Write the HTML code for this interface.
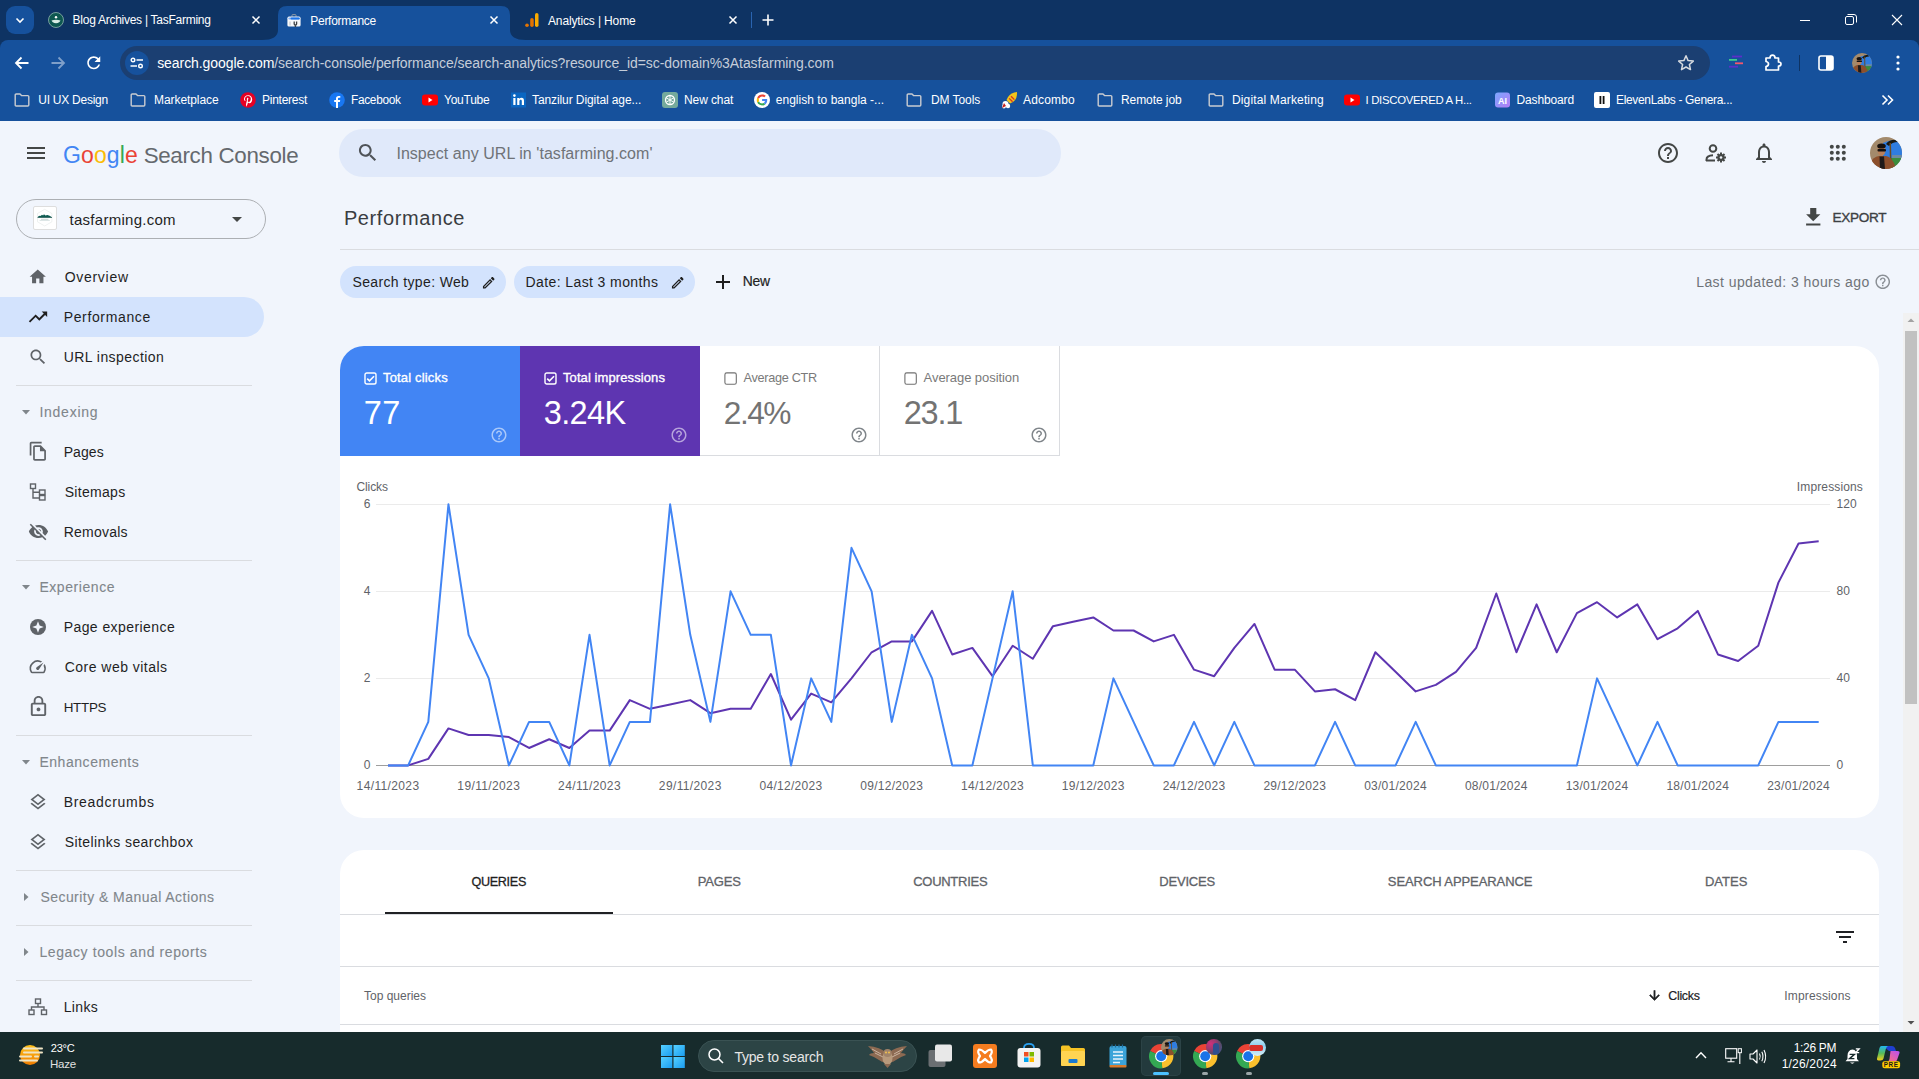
<!DOCTYPE html>
<html><head><meta charset="utf-8"><title>Performance</title><style>*{margin:0;padding:0;box-sizing:content-box}
html,body{width:1919px;height:1079px;overflow:hidden;background:#f1f5fc}
body{position:relative;font-family:"Liberation Sans",Arial,sans-serif}
.t{position:absolute;white-space:nowrap}
svg{overflow:visible}
</style></head>
<body>
<div style="position:absolute;left:0px;top:121px;width:1919px;height:911px;background:#f1f5fc;"></div>
<div style="position:absolute;left:27px;top:147px;width:18px;height:2px;background:#444746;"></div>
<div style="position:absolute;left:27px;top:152px;width:18px;height:2px;background:#444746;"></div>
<div style="position:absolute;left:27px;top:157px;width:18px;height:2px;background:#444746;"></div>
<div class="t" style="left:63.10px;top:144.00px;font-size:23px;line-height:23px;color:#4285f4;letter-spacing:0.085px;"><span style="color:#4285f4">G</span><span style="color:#ea4335">o</span><span style="color:#fbbc05">o</span><span style="color:#4285f4">g</span><span style="color:#34a853">l</span><span style="color:#ea4335">e</span></div>
<div class="t" style="left:143.63px;top:145.00px;font-size:22.35px;line-height:22.35px;color:#65696e;letter-spacing:-0.3px;">Search Console</div>
<div style="position:absolute;left:339px;top:129px;width:722px;height:48px;background:#e0e9fa;border-radius:24px;"></div>
<svg style="position:absolute;left:355.6px;top:141.2px;" width="23.5" height="23.5" viewBox="0 0 24 24"><path fill="#4f5358" d="M15.5 14h-.79l-.28-.27C15.41 12.59 16 11.11 16 9.5 16 5.91 13.09 3 9.5 3S3 5.91 3 9.5 5.91 16 9.5 16c1.61 0 3.09-.59 4.23-1.57l.27.28v.79l5 4.99L20.49 19l-4.99-5zm-6 0C7.01 14 5 11.99 5 9.5S7.01 5 9.5 5 14 7.01 14 9.5 11.99 14 9.5 14z"/></svg>
<div class="t" style="left:396.40px;top:146.00px;font-size:16px;line-height:16px;color:#6f7378;letter-spacing:0.046px;">Inspect any URL in 'tasfarming.com'</div>
<svg style="position:absolute;left:1656px;top:141px;" width="24" height="24" viewBox="0 0 24 24"><path fill="#444746" d="M11 18h2v-2h-2v2zm1-16C6.48 2 2 6.48 2 12s4.48 10 10 10 10-4.48 10-10S17.52 2 12 2zm0 18c-4.41 0-8-3.59-8-8s3.59-8 8-8 8 3.59 8 8-3.59 8-8 8zm0-14c-2.21 0-4 1.79-4 4h2c0-1.1.9-2 2-2s2 .9 2 2c0 2-3 1.75-3 5h2c0-2.25 3-2.5 3-5 0-2.21-1.79-4-4-4z"/></svg>
<svg style="position:absolute;left:1704px;top:141px;" width="24" height="24" viewBox="0 0 24 24"><circle cx="9" cy="7.5" r="3.3" fill="none" stroke="#444746" stroke-width="2"/><path d="M2.5 20 L2.5 18.5 Q2.5 14.5 9 14.2" fill="none" stroke="#444746" stroke-width="2"/><path d="M2 19.5 L11 19.5" stroke="#444746" stroke-width="2"/><circle cx="17" cy="16.5" r="3.6" fill="#444746"/><circle cx="17" cy="16.5" r="1.3" fill="#f0f4f9"/><path d="M17 11.5 L17 21.5 M12 16.5 L22 16.5 M13.5 13 L20.5 20 M20.5 13 L13.5 20" stroke="#444746" stroke-width="2"/><circle cx="17" cy="16.5" r="1.3" fill="#f0f4f9"/></svg>
<svg style="position:absolute;left:1752px;top:141px;" width="24" height="24" viewBox="0 0 24 24"><path fill="#444746" d="M12 22c1.1 0 2-.9 2-2h-4c0 1.1.89 2 2 2zm6-6v-5c0-3.07-1.64-5.64-4.5-6.32V4c0-.83-.67-1.5-1.5-1.5s-1.5.67-1.5 1.5v.68C7.63 5.36 6 7.92 6 11v5l-2 2v1h16v-1l-2-2zm-2 1H8v-6c0-2.48 1.51-4.5 4-4.5s4 2.02 4 4.5v6z"/></svg>
<svg style="position:absolute;left:1820px;top:140px;" width="30" height="30" viewBox="0 0 30 30"><circle cx="11.799999999999955" cy="6.800000000000011" r="2" fill="#444746"/><circle cx="17.799999999999955" cy="6.800000000000011" r="2" fill="#444746"/><circle cx="23.799999999999955" cy="6.800000000000011" r="2" fill="#444746"/><circle cx="11.799999999999955" cy="12.800000000000011" r="2" fill="#444746"/><circle cx="17.799999999999955" cy="12.800000000000011" r="2" fill="#444746"/><circle cx="23.799999999999955" cy="12.800000000000011" r="2" fill="#444746"/><circle cx="11.799999999999955" cy="18.80000000000001" r="2" fill="#444746"/><circle cx="17.799999999999955" cy="18.80000000000001" r="2" fill="#444746"/><circle cx="23.799999999999955" cy="18.80000000000001" r="2" fill="#444746"/></svg>
<svg style="position:absolute;left:1870px;top:137px;" width="32" height="32" viewBox="0 0 32 32"><defs><clipPath id="avc1"><circle cx="16" cy="16" r="16"/></clipPath></defs><g clip-path="url(#avc1)"><rect x="0" y="0" width="32" height="32" fill="#a38a6c"/><path d="M13 6 Q18 4 23 3 L32 3 L32 24 L13 24 Z" fill="#2f7de0"/><rect x="22" y="18" width="10" height="3" fill="#6d8aa0"/><rect x="21" y="21" width="11" height="11" fill="#3b8c3c"/><path d="M16 7 Q20 2 27 3 L28 5 Q22 5 19 9 Z" fill="#1a1a14"/><path d="M19.5 6 L21 6 L21.5 28 L20 28 Z" fill="#6a4a20"/><ellipse cx="11.5" cy="13.5" rx="4" ry="5.2" fill="#b9805a"/><ellipse cx="11.5" cy="9" rx="4.3" ry="2.6" fill="#17110e"/><rect x="7.5" y="12" width="8.5" height="2.4" rx="1" fill="#111"/><path d="M0 26 Q3 20 9 19 L16 19 Q21 20 24 26 L26 32 L0 32 Z" fill="#8c4f2c"/><path d="M9.5 19.5 L14 19.5 L15 32 L10 32 Z" fill="#1e1a1a"/></g></svg>
<div class="t" style="left:343.90px;top:208.00px;font-size:20px;line-height:20px;color:#3a3d42;letter-spacing:0.603px;">Performance</div>
<svg style="position:absolute;left:1800.5px;top:204.5px;" width="24.5" height="24.5" viewBox="0 0 24 24"><path fill="#444746" d="M19 9h-4V3H9v6H5l7 7 7-7zM5 18v2h14v-2H5z"/></svg>
<div class="t" style="left:1832.43px;top:211.00px;font-size:13.57px;line-height:13.57px;color:#3c4043;letter-spacing:-0.3px;-webkit-text-stroke:0.35px #3c4043;">EXPORT</div>
<div style="position:absolute;left:340px;top:249px;width:1579px;height:1px;background:#dadce0;"></div>
<div style="position:absolute;left:340px;top:266px;width:166px;height:32px;background:#d3e3fd;border-radius:16px;"></div>
<div class="t" style="left:352.50px;top:275.00px;font-size:14px;line-height:14px;color:#1f1f1f;letter-spacing:0.358px;">Search type: Web</div>
<svg style="position:absolute;left:480.5px;top:274.5px;" width="15.5" height="15.5" viewBox="0 0 24 24"><path fill="#1f1f1f" d="M14.06 9.02l.92.92L5.92 19H5v-.92l9.06-9.06M17.66 3c-.25 0-.51.1-.7.29l-1.83 1.83 3.75 3.75 1.83-1.83c.39-.39.39-1.02 0-1.41l-2.34-2.34c-.2-.2-.45-.29-.71-.29zm-3.6 3.19L3 17.25V21h3.75L17.81 9.94l-3.75-3.75z"/></svg>
<div style="position:absolute;left:514px;top:266px;width:180.5px;height:32px;background:#d3e3fd;border-radius:16px;"></div>
<div class="t" style="left:525.50px;top:275.00px;font-size:14px;line-height:14px;color:#1f1f1f;letter-spacing:0.401px;">Date: Last 3 months</div>
<svg style="position:absolute;left:670px;top:274.5px;" width="15.5" height="15.5" viewBox="0 0 24 24"><path fill="#1f1f1f" d="M14.06 9.02l.92.92L5.92 19H5v-.92l9.06-9.06M17.66 3c-.25 0-.51.1-.7.29l-1.83 1.83 3.75 3.75 1.83-1.83c.39-.39.39-1.02 0-1.41l-2.34-2.34c-.2-.2-.45-.29-.71-.29zm-3.6 3.19L3 17.25V21h3.75L17.81 9.94l-3.75-3.75z"/></svg>
<svg style="position:absolute;left:715px;top:274px;" width="16" height="16" viewBox="0 0 16 16"><path d="M8 1 L8 15 M1 8 L15 8" stroke="#1f1f1f" stroke-width="2"/></svg>
<div class="t" style="left:742.81px;top:275.00px;font-size:13.9px;line-height:13.9px;color:#1f1f1f;letter-spacing:-0.3px;-webkit-text-stroke:0.2px #1f1f1f;">New</div>
<div class="t" style="left:1696.20px;top:275.00px;font-size:14px;line-height:14px;color:#6f7378;letter-spacing:0.429px;">Last updated: 3 hours ago</div>
<svg style="position:absolute;left:1874.2px;top:273.4px;" width="17.5" height="17.5" viewBox="0 0 24 24"><path fill="#8a8f95" d="M11 18h2v-2h-2v2zm1-16C6.48 2 2 6.48 2 12s4.48 10 10 10 10-4.48 10-10S17.52 2 12 2zm0 18c-4.41 0-8-3.59-8-8s3.59-8 8-8 8 3.59 8 8-3.59 8-8 8zm0-14c-2.21 0-4 1.79-4 4h2c0-1.1.9-2 2-2s2 .9 2 2c0 2-3 1.75-3 5h2c0-2.25 3-2.5 3-5 0-2.21-1.79-4-4-4z"/></svg>
<div style="position:absolute;left:16px;top:199px;width:248px;height:38px;border:1px solid #acafb3;border-radius:20px;"></div>
<div style="position:absolute;left:33.3px;top:206.3px;width:23.4px;height:23.3px;background:#fff;border:1px solid #dedede;box-sizing:border-box;border-radius:2px;"></div>
<svg style="position:absolute;left:33.3px;top:206.3px;" width="23.4" height="23.3" viewBox="0 0 23.4 23.3"><path d="M11.7 3.3 L18.9 7.5 L18.9 15.8 L11.7 20 L4.5 15.8 L4.5 7.5 Z" fill="none" stroke="#e3e7e5" stroke-width="0.6"/><path d="M4.6 11.2 Q6 9.6 7.6 9.9 L9 8.7 L10.1 9.5 L11 8.3 L12.4 9.5 L14.4 9.1 L16.6 9.8 L19 11.2 Z" fill="#0d5a50"/><rect x="4.6" y="11" width="14.4" height="0.7" fill="#0a4a42"/><rect x="8" y="12.9" width="7.4" height="0.5" fill="#9aa"/><rect x="6.6" y="14" width="10.2" height="0.5" fill="#bcc"/></svg>
<div class="t" style="left:69.50px;top:212.00px;font-size:15px;line-height:15px;color:#1f1f1f;letter-spacing:0.274px;">tasfarming.com</div>
<svg style="position:absolute;left:225px;top:207px;" width="24" height="24" viewBox="0 0 24 24"><path fill="#444746" d="M7 10l5 5 5-5z"/></svg>
<div style="position:absolute;left:0px;top:297px;width:264px;height:40px;background:#d3e3fd;border-radius:0 20px 20px 0;"></div>
<div class="t" style="left:64.70px;top:270.00px;font-size:14px;line-height:14px;color:#1f1f1f;letter-spacing:0.709px;">Overview</div>
<svg style="position:absolute;left:28.25px;top:267.25px;" width="19.5" height="19.5" viewBox="0 0 24 24"><path fill="#5f6368" d="M10 20v-6h4v6h5v-8h3L12 3 2 12h3v8z"/></svg>
<div class="t" style="left:63.70px;top:310.00px;font-size:14px;line-height:14px;color:#1f1f1f;letter-spacing:0.644px;">Performance</div>
<svg style="position:absolute;left:27.0px;top:306.3px;" width="22" height="22" viewBox="0 0 24 24"><path fill="#1f1f1f" d="M16 6l2.29 2.29-4.88 4.88-4-4L2 16.59 3.41 18l6-6 4 4 6.3-6.29L22 12V6z"/></svg>
<div class="t" style="left:63.70px;top:350.00px;font-size:14px;line-height:14px;color:#1f1f1f;letter-spacing:0.442px;">URL inspection</div>
<svg style="position:absolute;left:28.0px;top:347.2px;" width="20" height="20" viewBox="0 0 24 24"><path fill="#5f6368" d="M15.5 14h-.79l-.28-.27C15.41 12.59 16 11.11 16 9.5 16 5.91 13.09 3 9.5 3S3 5.91 3 9.5 5.91 16 9.5 16c1.61 0 3.09-.59 4.23-1.57l.27.28v.79l5 4.99L20.49 19l-4.99-5zm-6 0C7.01 14 5 11.99 5 9.5S7.01 5 9.5 5 14 7.01 14 9.5 11.99 14 9.5 14z"/></svg>
<div class="t" style="left:63.70px;top:445.00px;font-size:14px;line-height:14px;color:#1f1f1f;letter-spacing:0.076px;">Pages</div>
<svg style="position:absolute;left:27.75px;top:441.35px;" width="20.5" height="20.5" viewBox="0 0 24 24"><path fill="#5f6368" d="M16 1H4c-1.1 0-2 .9-2 2v14h2V3h12V1zm-1 4H8c-1.1 0-1.99.9-1.99 2L6 21c0 1.1.89 2 1.99 2H19c1.1 0 2-.9 2-2V11l-6-6zM8 21V7h6v5h5v9H8z"/></svg>
<div class="t" style="left:64.70px;top:485.00px;font-size:14px;line-height:14px;color:#1f1f1f;letter-spacing:0.306px;">Sitemaps</div>
<svg style="position:absolute;left:29px;top:482.6px;" width="18" height="18" viewBox="0 0 18 18"><rect x="1.5" y="1" width="5" height="4.5" fill="none" stroke="#5f6368" stroke-width="1.4"/><rect x="10.5" y="7" width="5.5" height="4.5" fill="none" stroke="#5f6368" stroke-width="1.4"/><rect x="10.5" y="12.5" width="5.5" height="4.5" fill="none" stroke="#5f6368" stroke-width="1.4"/><path d="M4 5.5 L4 15 L10.5 15 M4 9.2 L10.5 9.2" fill="none" stroke="#5f6368" stroke-width="1.4"/></svg>
<div class="t" style="left:63.70px;top:525.00px;font-size:14px;line-height:14px;color:#1f1f1f;letter-spacing:0.223px;">Removals</div>
<svg style="position:absolute;left:27.5px;top:521.1px;" width="21" height="21" viewBox="0 0 24 24"><path fill="#5f6368" d="M12 7c2.76 0 5 2.24 5 5 0 .65-.13 1.26-.36 1.83l2.92 2.92c1.51-1.26 2.7-2.89 3.43-4.75-1.73-4.39-6-7.5-11-7.5-1.4 0-2.74.25-3.98.7l2.16 2.16C10.74 7.13 11.35 7 12 7zM2 4.27l2.28 2.28.46.46C3.08 8.3 1.78 10.02 1 12c1.73 4.39 6 7.5 11 7.5 1.55 0 3.03-.3 4.38-.84l.42.42L19.73 22 21 20.73 3.27 3 2 4.27zM7.53 9.8l1.55 1.55c-.05.21-.08.43-.08.65 0 1.66 1.34 3 3 3 .22 0 .44-.03.65-.08l1.55 1.55c-.67.33-1.41.53-2.2.53-2.76 0-5-2.24-5-5 0-.79.2-1.53.53-2.2zm4.31-.78l3.15 3.15.02-.16c0-1.66-1.34-3-3-3l-.17.01z"/></svg>
<div class="t" style="left:63.70px;top:620.00px;font-size:14px;line-height:14px;color:#1f1f1f;letter-spacing:0.422px;">Page experience</div>
<svg style="position:absolute;left:29px;top:617.6px;" width="18" height="18" viewBox="0 0 18 18"><circle cx="9" cy="9" r="8" fill="#5f6368"/><path d="M9 3.2 L10.6 7.4 L14.8 9 L10.6 10.6 L9 14.8 L7.4 10.6 L3.2 9 L7.4 7.4 Z" fill="#f1f5fc"/></svg>
<div class="t" style="left:64.70px;top:660.00px;font-size:14px;line-height:14px;color:#1f1f1f;letter-spacing:0.478px;">Core web vitals</div>
<svg style="position:absolute;left:28.25px;top:656.85px;" width="19.5" height="19.5" viewBox="0 0 24 24"><path fill="#5f6368" d="M20.38 8.57l-1.23 1.85a8 8 0 0 1-.22 7.58H5.07A8 8 0 0 1 15.58 6.85l1.85-1.23A10 10 0 0 0 3.35 19a2 2 0 0 0 1.72 1h13.85a2 2 0 0 0 1.74-1 10 10 0 0 0-.27-10.44zm-9.79 6.84a2 2 0 0 0 2.83 0l5.66-8.49-8.49 5.66a2 2 0 0 0 0 2.83z"/></svg>
<div class="t" style="left:63.74px;top:701.00px;font-size:13.42px;line-height:13.42px;color:#1f1f1f;letter-spacing:-0.3px;">HTTPS</div>
<svg style="position:absolute;left:26.5px;top:695.1px;" width="23" height="23" viewBox="0 0 24 24"><path fill="#5f6368" d="M12 17c1.1 0 2-.9 2-2s-.9-2-2-2-2 .9-2 2 .9 2 2 2zm6-9h-1V6c0-2.76-2.24-5-5-5S7 3.24 7 6v2H6c-1.1 0-2 .9-2 2v10c0 1.1.9 2 2 2h12c1.1 0 2-.9 2-2V10c0-1.1-.9-2-2-2zM8.9 6c0-1.71 1.39-3.1 3.1-3.1s3.1 1.39 3.1 3.1v2H8.9V6zM18 20H6V10h12v10z"/></svg>
<div class="t" style="left:63.70px;top:795.00px;font-size:14px;line-height:14px;color:#1f1f1f;letter-spacing:0.695px;">Breadcrumbs</div>
<svg style="position:absolute;left:28.0px;top:791.6px;" width="20" height="20" viewBox="0 0 24 24"><path fill="#5f6368" d="M11.99 18.54l-7.37-5.73L3 14.07l9 7 9-7-1.63-1.27zM12 16l7.36-5.73L21 9l-9-7-9 7 1.63 1.27L12 16zm0-11.47L17.74 9 12 13.47 6.26 9 12 4.53z"/></svg>
<div class="t" style="left:64.70px;top:835.00px;font-size:14px;line-height:14px;color:#1f1f1f;letter-spacing:0.427px;">Sitelinks searchbox</div>
<svg style="position:absolute;left:28.0px;top:831.6px;" width="20" height="20" viewBox="0 0 24 24"><path fill="#5f6368" d="M11.99 18.54l-7.37-5.73L3 14.07l9 7 9-7-1.63-1.27zM12 16l7.36-5.73L21 9l-9-7-9 7 1.63 1.27L12 16zm0-11.47L17.74 9 12 13.47 6.26 9 12 4.53z"/></svg>
<div class="t" style="left:63.70px;top:1000.00px;font-size:14px;line-height:14px;color:#1f1f1f;letter-spacing:0.354px;">Links</div>
<svg style="position:absolute;left:28px;top:997.9px;" width="20" height="18" viewBox="0 0 20 18"><rect x="7.5" y="1" width="5" height="4.5" fill="none" stroke="#5f6368" stroke-width="1.4"/><rect x="1" y="12" width="5" height="4.5" fill="none" stroke="#5f6368" stroke-width="1.4"/><rect x="13.5" y="12" width="5" height="4.5" fill="none" stroke="#5f6368" stroke-width="1.4"/><path d="M10 5.5 L10 9 M3.5 12 L3.5 9 L16 9 L16 12" fill="none" stroke="#5f6368" stroke-width="1.4"/></svg>
<div class="t" style="left:39.40px;top:405.00px;font-size:14px;line-height:14px;color:#80868b;letter-spacing:0.751px;-webkit-text-stroke:0.1px #80868b;">Indexing</div>
<svg style="position:absolute;left:21px;top:409.2px;" width="10" height="6" viewBox="0 0 10 6"><path d="M1 1 L9 1 L5 5.5 Z" fill="#80868b"/></svg>
<div class="t" style="left:39.40px;top:580.00px;font-size:14px;line-height:14px;color:#80868b;letter-spacing:0.572px;-webkit-text-stroke:0.1px #80868b;">Experience</div>
<svg style="position:absolute;left:21px;top:584.2px;" width="10" height="6" viewBox="0 0 10 6"><path d="M1 1 L9 1 L5 5.5 Z" fill="#80868b"/></svg>
<div class="t" style="left:39.40px;top:755.00px;font-size:14px;line-height:14px;color:#80868b;letter-spacing:0.546px;-webkit-text-stroke:0.1px #80868b;">Enhancements</div>
<svg style="position:absolute;left:21px;top:759.2px;" width="10" height="6" viewBox="0 0 10 6"><path d="M1 1 L9 1 L5 5.5 Z" fill="#80868b"/></svg>
<div class="t" style="left:40.40px;top:890.00px;font-size:14px;line-height:14px;color:#80868b;letter-spacing:0.454px;-webkit-text-stroke:0.1px #80868b;">Security &amp; Manual Actions</div>
<svg style="position:absolute;left:23px;top:891.7px;" width="6" height="10" viewBox="0 0 6 10"><path d="M1 1 L5.5 5 L1 9 Z" fill="#80868b"/></svg>
<div class="t" style="left:39.40px;top:945.00px;font-size:14px;line-height:14px;color:#80868b;letter-spacing:0.612px;-webkit-text-stroke:0.1px #80868b;">Legacy tools and reports</div>
<svg style="position:absolute;left:23px;top:946.9px;" width="6" height="10" viewBox="0 0 6 10"><path d="M1 1 L5.5 5 L1 9 Z" fill="#80868b"/></svg>
<div style="position:absolute;left:16px;top:385px;width:236px;height:1px;background:#dadce0;"></div>
<div style="position:absolute;left:16px;top:560px;width:236px;height:1px;background:#dadce0;"></div>
<div style="position:absolute;left:16px;top:735px;width:236px;height:1px;background:#dadce0;"></div>
<div style="position:absolute;left:16px;top:870px;width:236px;height:1px;background:#dadce0;"></div>
<div style="position:absolute;left:16px;top:925px;width:236px;height:1px;background:#dadce0;"></div>
<div style="position:absolute;left:16px;top:980px;width:236px;height:1px;background:#dadce0;"></div>
<div style="position:absolute;left:340px;top:346px;width:1539px;height:472px;background:#fff;border-radius:24px;"></div>
<div style="position:absolute;left:340px;top:346px;width:180px;height:110px;background:#4285f4;border-radius:24px 0 0 0;"></div>
<div style="position:absolute;left:520px;top:346px;width:180px;height:110px;background:#5e35b1;"></div>
<div style="position:absolute;left:700px;top:346px;width:360px;height:110px;border-right:1px solid #dadce0;border-bottom:1px solid #dadce0;box-sizing:border-box;"></div>
<div style="position:absolute;left:879px;top:346px;width:1px;height:110px;background:#dadce0;"></div>
<svg style="position:absolute;left:363.6px;top:371.8px;" width="13" height="13" viewBox="0 0 13 13"><rect x="1" y="1" width="11" height="11" rx="1.8" fill="none" stroke="#fff" stroke-width="1.4"/><path d="M3.2 6.6 L5.5 8.9 L10 4.2" fill="none" stroke="#fff" stroke-width="1.6"/></svg>
<div class="t" style="left:383.00px;top:371.00px;font-size:13px;line-height:13px;color:#fff;letter-spacing:0.168px;-webkit-text-stroke:0.35px #fff;">Total clicks</div>
<div class="t" style="left:363.80px;top:397.00px;font-size:32.5px;line-height:32.5px;color:#fff;letter-spacing:0.325px;">77</div>
<svg style="position:absolute;left:490.4px;top:425.9px;" width="18" height="18" viewBox="0 0 24 24"><path fill="rgba(255,255,255,0.55)" d="M11 18h2v-2h-2v2zm1-16C6.48 2 2 6.48 2 12s4.48 10 10 10 10-4.48 10-10S17.52 2 12 2zm0 18c-4.41 0-8-3.59-8-8s3.59-8 8-8 8 3.59 8 8-3.59 8-8 8zm0-14c-2.21 0-4 1.79-4 4h2c0-1.1.9-2 2-2s2 .9 2 2c0 2-3 1.75-3 5h2c0-2.25 3-2.5 3-5 0-2.21-1.79-4-4-4z"/></svg>
<svg style="position:absolute;left:543.6px;top:371.8px;" width="13" height="13" viewBox="0 0 13 13"><rect x="1" y="1" width="11" height="11" rx="1.8" fill="none" stroke="#fff" stroke-width="1.4"/><path d="M3.2 6.6 L5.5 8.9 L10 4.2" fill="none" stroke="#fff" stroke-width="1.6"/></svg>
<div class="t" style="left:563.00px;top:371.00px;font-size:13px;line-height:13px;color:#fff;letter-spacing:0.092px;-webkit-text-stroke:0.35px #fff;">Total impressions</div>
<div class="t" style="left:543.80px;top:397.00px;font-size:32.5px;line-height:32.5px;color:#fff;letter-spacing:-0.664px;">3.24K</div>
<svg style="position:absolute;left:670.4px;top:425.9px;" width="18" height="18" viewBox="0 0 24 24"><path fill="rgba(255,255,255,0.55)" d="M11 18h2v-2h-2v2zm1-16C6.48 2 2 6.48 2 12s4.48 10 10 10 10-4.48 10-10S17.52 2 12 2zm0 18c-4.41 0-8-3.59-8-8s3.59-8 8-8 8 3.59 8 8-3.59 8-8 8zm0-14c-2.21 0-4 1.79-4 4h2c0-1.1.9-2 2-2s2 .9 2 2c0 2-3 1.75-3 5h2c0-2.25 3-2.5 3-5 0-2.21-1.79-4-4-4z"/></svg>
<svg style="position:absolute;left:723.6px;top:371.8px;" width="13" height="13" viewBox="0 0 13 13"><rect x="0.9" y="0.9" width="11.4" height="11.4" rx="1.8" fill="none" stroke="#707070" stroke-width="1.1"/></svg>
<div class="t" style="left:743.60px;top:372.00px;font-size:12.7px;line-height:12.7px;color:#7a7a7a;letter-spacing:-0.3px;">Average CTR</div>
<div class="t" style="left:723.82px;top:398.00px;font-size:31.7px;line-height:31.7px;color:#737373;letter-spacing:-1.5px;">2.4%</div>
<svg style="position:absolute;left:850.4px;top:425.9px;" width="18" height="18" viewBox="0 0 24 24"><path fill="#80868b" d="M11 18h2v-2h-2v2zm1-16C6.48 2 2 6.48 2 12s4.48 10 10 10 10-4.48 10-10S17.52 2 12 2zm0 18c-4.41 0-8-3.59-8-8s3.59-8 8-8 8 3.59 8 8-3.59 8-8 8zm0-14c-2.21 0-4 1.79-4 4h2c0-1.1.9-2 2-2s2 .9 2 2c0 2-3 1.75-3 5h2c0-2.25 3-2.5 3-5 0-2.21-1.79-4-4-4z"/></svg>
<svg style="position:absolute;left:903.6px;top:371.8px;" width="13" height="13" viewBox="0 0 13 13"><rect x="0.9" y="0.9" width="11.4" height="11.4" rx="1.8" fill="none" stroke="#707070" stroke-width="1.1"/></svg>
<div class="t" style="left:923.60px;top:371.00px;font-size:13px;line-height:13px;color:#7a7a7a;letter-spacing:-0.065px;">Average position</div>
<div class="t" style="left:903.80px;top:397.00px;font-size:32.5px;line-height:32.5px;color:#737373;letter-spacing:-1.26px;">23.1</div>
<svg style="position:absolute;left:1030.4px;top:425.9px;" width="18" height="18" viewBox="0 0 24 24"><path fill="#80868b" d="M11 18h2v-2h-2v2zm1-16C6.48 2 2 6.48 2 12s4.48 10 10 10 10-4.48 10-10S17.52 2 12 2zm0 18c-4.41 0-8-3.59-8-8s3.59-8 8-8 8 3.59 8 8-3.59 8-8 8zm0-14c-2.21 0-4 1.79-4 4h2c0-1.1.9-2 2-2s2 .9 2 2c0 2-3 1.75-3 5h2c0-2.25 3-2.5 3-5 0-2.21-1.79-4-4-4z"/></svg>
<div style="position:absolute;left:376px;top:504px;width:1454px;height:1px;background:#ebebeb;"></div>
<div style="position:absolute;left:376px;top:591px;width:1454px;height:1px;background:#ebebeb;"></div>
<div style="position:absolute;left:376px;top:678px;width:1454px;height:1px;background:#ebebeb;"></div>
<div style="position:absolute;left:376px;top:765px;width:1454px;height:1px;background:#9e9e9e;"></div>
<div class="t" style="left:-229.50px;top:498.00px;font-size:12px;line-height:12px;color:#5f6368;width:600px;text-align:right;">6</div>
<div class="t" style="left:-229.50px;top:585.00px;font-size:12px;line-height:12px;color:#5f6368;width:600px;text-align:right;">4</div>
<div class="t" style="left:-229.50px;top:672.00px;font-size:12px;line-height:12px;color:#5f6368;width:600px;text-align:right;">2</div>
<div class="t" style="left:-229.50px;top:759.00px;font-size:12px;line-height:12px;color:#5f6368;width:600px;text-align:right;">0</div>
<div class="t" style="left:1836.60px;top:498.00px;font-size:12px;line-height:12px;color:#5f6368;">120</div>
<div class="t" style="left:1836.60px;top:585.00px;font-size:12px;line-height:12px;color:#5f6368;">80</div>
<div class="t" style="left:1836.60px;top:672.00px;font-size:12px;line-height:12px;color:#5f6368;">40</div>
<div class="t" style="left:1836.60px;top:759.00px;font-size:12px;line-height:12px;color:#5f6368;">0</div>
<div class="t" style="left:356.40px;top:481.00px;font-size:12px;line-height:12px;color:#5f6368;letter-spacing:-0.08px;">Clicks</div>
<div class="t" style="left:1796.80px;top:481.00px;font-size:12px;line-height:12px;color:#5f6368;letter-spacing:0.131px;">Impressions</div>
<div class="t" style="left:356.60px;top:780.00px;font-size:12px;line-height:12px;color:#5f6368;letter-spacing:0.367px;">14/11/2023</div>
<div class="t" style="left:457.35px;top:780.00px;font-size:12px;line-height:12px;color:#5f6368;letter-spacing:0.367px;">19/11/2023</div>
<div class="t" style="left:558.11px;top:780.00px;font-size:12px;line-height:12px;color:#5f6368;letter-spacing:0.367px;">24/11/2023</div>
<div class="t" style="left:658.86px;top:780.00px;font-size:12px;line-height:12px;color:#5f6368;letter-spacing:0.367px;">29/11/2023</div>
<div class="t" style="left:759.61px;top:780.00px;font-size:12px;line-height:12px;color:#5f6368;letter-spacing:0.268px;">04/12/2023</div>
<div class="t" style="left:860.37px;top:780.00px;font-size:12px;line-height:12px;color:#5f6368;letter-spacing:0.268px;">09/12/2023</div>
<div class="t" style="left:961.12px;top:780.00px;font-size:12px;line-height:12px;color:#5f6368;letter-spacing:0.268px;">14/12/2023</div>
<div class="t" style="left:1061.87px;top:780.00px;font-size:12px;line-height:12px;color:#5f6368;letter-spacing:0.268px;">19/12/2023</div>
<div class="t" style="left:1162.63px;top:780.00px;font-size:12px;line-height:12px;color:#5f6368;letter-spacing:0.268px;">24/12/2023</div>
<div class="t" style="left:1263.38px;top:780.00px;font-size:12px;line-height:12px;color:#5f6368;letter-spacing:0.268px;">29/12/2023</div>
<div class="t" style="left:1364.14px;top:780.00px;font-size:12px;line-height:12px;color:#5f6368;letter-spacing:0.268px;">03/01/2024</div>
<div class="t" style="left:1464.89px;top:780.00px;font-size:12px;line-height:12px;color:#5f6368;letter-spacing:0.268px;">08/01/2024</div>
<div class="t" style="left:1565.64px;top:780.00px;font-size:12px;line-height:12px;color:#5f6368;letter-spacing:0.268px;">13/01/2024</div>
<div class="t" style="left:1666.40px;top:780.00px;font-size:12px;line-height:12px;color:#5f6368;letter-spacing:0.268px;">18/01/2024</div>
<div class="t" style="left:1767.15px;top:780.00px;font-size:12px;line-height:12px;color:#5f6368;letter-spacing:0.268px;">23/01/2024</div>
<svg style="position:absolute;left:0px;top:0px;pointer-events:none;" width="1919" height="1079" viewBox="0 0 1919 1079"><polyline points="388.00,765.40 408.15,765.40 428.30,758.87 448.45,728.41 468.60,734.94 488.75,734.94 508.90,737.11 529.05,747.99 549.21,739.29 569.36,747.99 589.51,730.59 609.66,730.59 629.81,700.12 649.96,708.83 670.11,704.48 690.26,700.12 710.41,713.18 730.56,708.83 750.71,708.83 770.86,674.01 791.01,719.71 811.16,693.60 831.32,702.30 851.47,678.37 871.62,652.26 891.77,641.38 911.92,641.38 932.07,610.92 952.22,654.43 972.37,647.90 992.52,676.19 1012.67,645.73 1032.82,658.78 1052.97,626.15 1073.12,621.79 1093.27,617.44 1113.43,630.50 1133.58,630.50 1153.73,641.38 1173.88,634.85 1194.03,669.66 1214.18,676.19 1234.33,647.90 1254.48,623.97 1274.63,669.66 1294.78,669.66 1314.93,691.42 1335.08,689.25 1355.23,700.12 1375.38,652.26 1395.54,671.84 1415.69,691.42 1435.84,684.89 1455.99,671.84 1476.14,647.90 1496.29,593.51 1516.44,652.26 1536.59,604.39 1556.74,652.26 1576.89,613.09 1597.04,602.21 1617.19,617.44 1637.34,604.39 1657.49,639.20 1677.65,628.32 1697.80,610.92 1717.95,654.43 1738.10,660.96 1758.25,645.73 1778.40,582.63 1798.55,543.47 1818.70,541.29" fill="none" stroke="#5e35b1" stroke-width="2" stroke-linejoin="round"/><polyline points="388.00,765.40 408.15,765.40 428.30,721.88 448.45,504.30 468.60,634.85 488.75,678.37 508.90,765.40 529.05,721.88 549.21,721.88 569.36,765.40 589.51,634.85 609.66,765.40 629.81,721.88 649.96,721.88 670.11,504.30 690.26,634.85 710.41,721.88 730.56,591.33 750.71,634.85 770.86,634.85 791.01,765.40 811.16,678.37 831.32,721.88 851.47,547.82 871.62,591.33 891.77,721.88 911.92,634.85 932.07,678.37 952.22,765.40 972.37,765.40 992.52,678.37 1012.67,591.33 1032.82,765.40 1052.97,765.40 1073.12,765.40 1093.27,765.40 1113.43,678.37 1133.58,721.88 1153.73,765.40 1173.88,765.40 1194.03,721.88 1214.18,765.40 1234.33,721.88 1254.48,765.40 1274.63,765.40 1294.78,765.40 1314.93,765.40 1335.08,721.88 1355.23,765.40 1375.38,765.40 1395.54,765.40 1415.69,721.88 1435.84,765.40 1455.99,765.40 1476.14,765.40 1496.29,765.40 1516.44,765.40 1536.59,765.40 1556.74,765.40 1576.89,765.40 1597.04,678.37 1617.19,721.88 1637.34,765.40 1657.49,721.88 1677.65,765.40 1697.80,765.40 1717.95,765.40 1738.10,765.40 1758.25,765.40 1778.40,721.88 1798.55,721.88 1818.70,721.88" fill="none" stroke="#4285f4" stroke-width="2" stroke-linejoin="round"/></svg>
<div style="position:absolute;left:340px;top:850px;width:1539px;height:200px;background:#fff;border-radius:24px 24px 0 0;"></div>
<div class="t" style="left:471.40px;top:876.00px;font-size:12.62px;line-height:12.62px;color:#1f1f1f;letter-spacing:-0.3px;-webkit-text-stroke:0.3px #1f1f1f;">QUERIES</div>
<div class="t" style="left:697.70px;top:875.00px;font-size:13px;line-height:13px;color:#5f6368;letter-spacing:-0.14px;-webkit-text-stroke:0.3px #5f6368;">PAGES</div>
<div class="t" style="left:913.20px;top:875.00px;font-size:13px;line-height:13px;color:#5f6368;letter-spacing:-0.274px;-webkit-text-stroke:0.3px #5f6368;">COUNTRIES</div>
<div class="t" style="left:1159.30px;top:875.00px;font-size:13px;line-height:13px;color:#5f6368;letter-spacing:-0.217px;-webkit-text-stroke:0.3px #5f6368;">DEVICES</div>
<div class="t" style="left:1387.80px;top:875.00px;font-size:13px;line-height:13px;color:#5f6368;letter-spacing:-0.08px;-webkit-text-stroke:0.3px #5f6368;">SEARCH APPEARANCE</div>
<div class="t" style="left:1704.90px;top:875.00px;font-size:13px;line-height:13px;color:#5f6368;letter-spacing:0.023px;-webkit-text-stroke:0.3px #5f6368;">DATES</div>
<div style="position:absolute;left:385px;top:911.5px;width:228px;height:2.5px;background:#202124;"></div>
<div style="position:absolute;left:340px;top:914px;width:1539px;height:1px;background:#dadce0;"></div>
<svg style="position:absolute;left:1833px;top:924.5px;" width="24" height="24" viewBox="0 0 24 24"><path fill="#202124" d="M10 18h4v-2h-4v2zM3 6v2h18V6H3zm3 7h12v-2H6v2z"/></svg>
<div style="position:absolute;left:340px;top:965.5px;width:1539px;height:1px;background:#dadce0;"></div>
<div class="t" style="left:364.00px;top:990.00px;font-size:12px;line-height:12px;color:#5f6368;letter-spacing:-0.004px;">Top queries</div>
<svg style="position:absolute;left:1646.5px;top:988px;" width="15" height="15" viewBox="0 0 24 24"><path fill="#202124" stroke="#202124" stroke-width="0.9" d="M20 12l-1.41-1.41L13 16.17V4h-2v12.17l-5.58-5.59L4 12l8 8 8-8z"/></svg>
<div class="t" style="left:1668.30px;top:990.00px;font-size:12.42px;line-height:12.42px;color:#202124;letter-spacing:-0.3px;-webkit-text-stroke:0.2px #202124;">Clicks</div>
<div class="t" style="left:1784.30px;top:990.00px;font-size:12px;line-height:12px;color:#5f6368;letter-spacing:0.151px;">Impressions</div>
<div style="position:absolute;left:340px;top:1024px;width:1539px;height:1px;background:#dadce0;"></div>
<div style="position:absolute;left:1903px;top:313px;width:16px;height:719px;background:#f1f1f1;"></div>
<div style="position:absolute;left:1905px;top:331px;width:12px;height:373px;background:#c1c1c1;"></div>
<svg style="position:absolute;left:1906px;top:316px;" width="10" height="8" viewBox="0 0 10 8"><path d="M1.5 6 L5 2.5 L8.5 6 Z" fill="#a3a3a3"/></svg>
<svg style="position:absolute;left:1906px;top:1019px;" width="10" height="8" viewBox="0 0 10 8"><path d="M1.5 2 L5 5.5 L8.5 2 Z" fill="#505050"/></svg>
<div style="position:absolute;left:0px;top:0px;width:1919px;height:50px;background:#0e3363;"></div>
<div style="position:absolute;left:0px;top:40px;width:1919px;height:81px;background:#16519c;border-radius:8px 8px 0 0;"></div>
<div style="position:absolute;left:6px;top:6px;width:28px;height:28px;background:#16519c;border-radius:9px;"></div>
<svg style="position:absolute;left:14px;top:14px;" width="12" height="12" viewBox="0 0 12 12"><path d="M2.5 4.5 L6 8 L9.5 4.5" stroke="#fff" stroke-width="1.6" fill="none"/></svg>
<svg style="position:absolute;left:262px;top:0px;" width="264" height="41" viewBox="0 0 264 41"><path fill="#16519c" d="M0 41 L0 40 Q16 40 16 30 L16 15 Q16 6 25 6 L239 6 Q248 6 248 15 L248 30 Q248 40 264 40 L264 41 Z"/></svg>
<svg style="position:absolute;left:48px;top:12px;" width="16" height="16" viewBox="0 0 16 16"><circle cx="8" cy="8" r="7.5" fill="#0d5750" stroke="#8fb5ad" stroke-width="0.8"/><circle cx="8" cy="5.2" r="1.2" fill="#fff"/><path d="M3.5 8.5 Q8 7 12.5 8.5 L11.5 10 Q8 12.5 4.5 10 Z" fill="#d8ece4"/></svg>
<div class="t" style="left:72.60px;top:14.00px;font-size:12px;line-height:12px;color:#ffffff;letter-spacing:-0.266px;">Blog Archives | TasFarming</div>
<svg style="position:absolute;left:251px;top:15px;" width="10" height="10" viewBox="0 0 10 10"><path d="M1.5 1.5 L8.5 8.5 M8.5 1.5 L1.5 8.5" stroke="#fff" stroke-width="1.5"/></svg>
<svg style="position:absolute;left:287px;top:14px;" width="14" height="13" viewBox="0 0 14 13"><path d="M5 2.8 L5 1.2 Q5 0.6 5.6 0.6 L8.4 0.6 Q9 0.6 9 1.2 L9 2.8" fill="none" stroke="#9aa0a6" stroke-width="0.9"/><rect x="0.4" y="2.6" width="13.2" height="10" rx="1.6" fill="#f8f9fa"/><rect x="1.2" y="3.6" width="11.6" height="2" rx="1" fill="#8ab4f8"/><rect x="3.5" y="3.6" width="9.3" height="2" rx="1" fill="#1a73e8"/><path d="M7.2 7.5 L7.2 10 Q7.2 11 8.4 11 Q9.6 11 9.6 10 L9.6 7.5 M8.4 11 L8.4 13" fill="none" stroke="#3c4043" stroke-width="1.3"/><rect x="2" y="7.5" width="2" height="4" fill="#dadce0"/></svg>
<div class="t" style="left:310.30px;top:15.00px;font-size:12px;line-height:12px;color:#ffffff;letter-spacing:-0.282px;">Performance</div>
<svg style="position:absolute;left:489px;top:14.5px;" width="10" height="10" viewBox="0 0 10 10"><path d="M1.5 1.5 L8.5 8.5 M8.5 1.5 L1.5 8.5" stroke="#fff" stroke-width="1.5"/></svg>
<svg style="position:absolute;left:525px;top:13px;" width="14" height="15" viewBox="0 0 14 15"><rect x="10" y="0" width="3.5" height="14" rx="1.75" fill="#f9ab00"/><rect x="5.2" y="5" width="3.5" height="9" rx="1.75" fill="#e37400"/><circle cx="2" cy="12.2" r="1.8" fill="#e37400"/></svg>
<div class="t" style="left:548.00px;top:15.00px;font-size:12px;line-height:12px;color:#ffffff;letter-spacing:-0.143px;">Analytics | Home</div>
<svg style="position:absolute;left:727.5px;top:14.5px;" width="10" height="10" viewBox="0 0 10 10"><path d="M1.5 1.5 L8.5 8.5 M8.5 1.5 L1.5 8.5" stroke="#fff" stroke-width="1.5"/></svg>
<div style="position:absolute;left:750.5px;top:12px;width:1.5px;height:16px;background:#2a64b0;"></div>
<svg style="position:absolute;left:762px;top:14px;" width="12" height="12" viewBox="0 0 12 12"><path d="M6 0.5 L6 11.5 M0.5 6 L11.5 6" stroke="#fff" stroke-width="1.6"/></svg>
<div style="position:absolute;left:1800px;top:20px;width:10px;height:1px;background:#fff;"></div>
<svg style="position:absolute;left:1845px;top:14px;" width="12" height="12" viewBox="0 0 12 12"><rect x="0.5" y="2.5" width="8" height="8" rx="1.5" fill="none" stroke="#fff" stroke-width="1"/><path d="M2.5 0.5 L9 0.5 Q11.5 0.5 11.5 3 L11.5 8.5" fill="none" stroke="#fff" stroke-width="1"/></svg>
<svg style="position:absolute;left:1891px;top:14px;" width="12" height="12" viewBox="0 0 12 12"><path d="M1 1 L11 11 M11 1 L1 11" stroke="#fff" stroke-width="1.1"/></svg>
<svg style="position:absolute;left:14px;top:55px;" width="16" height="16" viewBox="0 0 16 16"><path d="M14.5 8 L2 8 M7.5 2.5 L2 8 L7.5 13.5" stroke="#fff" stroke-width="1.8" fill="none"/></svg>
<svg style="position:absolute;left:50px;top:55px;" width="16" height="16" viewBox="0 0 16 16"><path d="M1.5 8 L14 8 M8.5 2.5 L14 8 L8.5 13.5" stroke="#7f9fc9" stroke-width="1.8" fill="none"/></svg>
<svg style="position:absolute;left:84.3px;top:53.3px;" width="19.5" height="19.5" viewBox="0 0 24 24"><path fill="#fff" d="M17.65 6.35C16.2 4.9 14.21 4 12 4c-4.42 0-7.99 3.58-7.99 8s3.57 8 7.99 8c3.73 0 6.84-2.55 7.73-6h-2.08c-.82 2.33-3.04 4-5.65 4-3.31 0-6-2.69-6-6s2.69-6 6-6c1.66 0 3.14.69 4.22 1.78L13 11h7V4l-2.35 2.35z"/></svg>
<div style="position:absolute;left:120px;top:46px;width:1590px;height:34px;background:#1b3f72;border-radius:17px;"></div>
<div style="position:absolute;left:125px;top:51px;width:24px;height:24px;border-radius:12px;background:#16519c;"></div>
<svg style="position:absolute;left:130px;top:57px;" width="14" height="12" viewBox="0 0 14 12"><circle cx="3" cy="3" r="1.8" fill="none" stroke="#fff" stroke-width="1.4"/><path d="M6.5 3 L13 3" stroke="#fff" stroke-width="1.5"/><circle cx="10.5" cy="9" r="1.8" fill="none" stroke="#fff" stroke-width="1.4"/><path d="M0.5 9 L7 9" stroke="#fff" stroke-width="1.5"/></svg>
<div class="t" style="left:157.20px;top:56.00px;font-size:14px;line-height:14px;color:#fff;letter-spacing:-0.07px;"><span style="color:#fff">search.google.com</span><span style="color:#c5cdd9">/search-console/performance/search-analytics?resource_id=sc-domain%3Atasfarming.com</span></div>
<svg style="position:absolute;left:1677px;top:54px;" width="18" height="18" viewBox="0 0 18 18"><path d="M9 1.8 L11.1 6.6 L16.3 7.1 L12.4 10.5 L13.5 15.6 L9 13 L4.5 15.6 L5.6 10.5 L1.7 7.1 L6.9 6.6 Z" fill="none" stroke="#d5d9df" stroke-width="1.5" stroke-linejoin="round"/></svg>
<svg style="position:absolute;left:1728px;top:55px;" width="16" height="16" viewBox="0 0 16 16"><path d="M4 1.5 L14 1.5" stroke="#5b2fc9" stroke-width="1.8"/><path d="M1 4.9 L9 4.9" stroke="#3ecf8e" stroke-width="1.8"/><path d="M7 8.3 L15 8.3" stroke="#f5576c" stroke-width="1.8"/><path d="M1 11.7 L10 11.7" stroke="#5b2fc9" stroke-width="1.8"/></svg>
<svg style="position:absolute;left:1764px;top:54px;" width="18" height="18" viewBox="0 0 18 18"><path d="M2 4 L6 4 Q6 1.2 8.5 1.2 Q11 1.2 11 4 L14.5 4 L14.5 8 Q17 8 17 10 Q17 12 14.5 12 L14.5 16 L2 16 L2 12.5 Q4.5 12 4.5 10 Q4.5 8 2 7.5 Z" fill="none" stroke="#fff" stroke-width="1.7" stroke-linejoin="round"/></svg>
<div style="position:absolute;left:1798.5px;top:55px;width:1.5px;height:16px;background:#0e3363;"></div>
<svg style="position:absolute;left:1818px;top:55px;" width="16" height="16" viewBox="0 0 16 16"><rect x="1" y="1" width="14" height="14" rx="2" fill="none" stroke="#fff" stroke-width="1.6"/><rect x="8" y="1" width="7" height="14" fill="#fff"/></svg>
<svg style="position:absolute;left:1852px;top:53px;" width="20" height="20" viewBox="0 0 32 32"><defs><clipPath id="avc2"><circle cx="16" cy="16" r="16"/></clipPath></defs><g clip-path="url(#avc2)"><rect x="0" y="0" width="32" height="32" fill="#a38a6c"/><path d="M13 6 Q18 4 23 3 L32 3 L32 24 L13 24 Z" fill="#2f7de0"/><rect x="22" y="18" width="10" height="3" fill="#6d8aa0"/><rect x="21" y="21" width="11" height="11" fill="#3b8c3c"/><path d="M16 7 Q20 2 27 3 L28 5 Q22 5 19 9 Z" fill="#1a1a14"/><path d="M19.5 6 L21 6 L21.5 28 L20 28 Z" fill="#6a4a20"/><ellipse cx="11.5" cy="13.5" rx="4" ry="5.2" fill="#b9805a"/><ellipse cx="11.5" cy="9" rx="4.3" ry="2.6" fill="#17110e"/><rect x="7.5" y="12" width="8.5" height="2.4" rx="1" fill="#111"/><path d="M0 26 Q3 20 9 19 L16 19 Q21 20 24 26 L26 32 L0 32 Z" fill="#8c4f2c"/><path d="M9.5 19.5 L14 19.5 L15 32 L10 32 Z" fill="#1e1a1a"/></g></svg>
<svg style="position:absolute;left:1894px;top:54px;" width="8" height="18" viewBox="0 0 8 18"><circle cx="4" cy="3" r="1.6" fill="#fff"/><circle cx="4" cy="9" r="1.6" fill="#fff"/><circle cx="4" cy="15" r="1.6" fill="#fff"/></svg>
<svg style="position:absolute;left:14px;top:92px;" width="16" height="16" viewBox="0 0 16 16"><path d="M1.2 3 Q1.2 2 2.2 2 L6 2 L7.5 3.6 L13.8 3.6 Q14.8 3.6 14.8 4.6 L14.8 13 Q14.8 14 13.8 14 L2.2 14 Q1.2 14 1.2 13 Z" fill="none" stroke="#c9ccd1" stroke-width="1.4" stroke-linejoin="round"/></svg>
<div class="t" style="left:38.30px;top:94.00px;font-size:12px;line-height:12px;color:#fff;letter-spacing:-0.256px;">UI UX Design</div>
<svg style="position:absolute;left:130px;top:92px;" width="16" height="16" viewBox="0 0 16 16"><path d="M1.2 3 Q1.2 2 2.2 2 L6 2 L7.5 3.6 L13.8 3.6 Q14.8 3.6 14.8 4.6 L14.8 13 Q14.8 14 13.8 14 L2.2 14 Q1.2 14 1.2 13 Z" fill="none" stroke="#c9ccd1" stroke-width="1.4" stroke-linejoin="round"/></svg>
<div class="t" style="left:154.00px;top:94.00px;font-size:12px;line-height:12px;color:#fff;letter-spacing:-0.069px;">Marketplace</div>
<svg style="position:absolute;left:239.5px;top:92px;" width="16" height="16" viewBox="0 0 16 16"><circle cx="8" cy="8" r="7.8" fill="#e60023"/><path d="M8.3 3.2 C5.3 3.2 4 5.2 4 6.9 C4 7.9 4.4 8.8 5.2 9.1 L5.5 8.5 C5.1 8 4.9 7.5 5 6.9 C5 5.2 6.3 4.1 8 4.1 C9.6 4.1 10.8 5.2 10.8 6.8 C10.8 8.7 9.9 10 8.7 10 C8 10 7.6 9.5 7.8 8.8 L8.4 6.6 C8.5 6 8.2 5.7 7.8 5.7 C7.2 5.7 6.8 6.4 6.8 7.1 L7 7.9 L6 12.3 L6.3 14.8 L7.2 13 L8 10.6 C8.3 11 8.9 11.3 9.5 11.3 C11.2 11.3 12.2 9.4 12.2 7.3 C12.2 5 10.5 3.2 8.3 3.2 Z" fill="#fff"/></svg>
<div class="t" style="left:262.00px;top:94.00px;font-size:12px;line-height:12px;color:#fff;letter-spacing:-0.253px;">Pinterest</div>
<svg style="position:absolute;left:329px;top:92px;" width="16" height="16" viewBox="0 0 16 16"><circle cx="8" cy="8" r="7.8" fill="#1877f2"/><path d="M9 16 L9 10 L10.9 10 L11.2 8 L9 8 L9 6.8 C9 6.2 9.3 5.8 10.1 5.8 L11.3 5.8 L11.3 4 C11 4 10.3 3.9 9.6 3.9 C8 3.9 7 4.8 7 6.5 L7 8 L5.2 8 L5.2 10 L7 10 L7 16 Z" fill="#fff"/></svg>
<div class="t" style="left:351.00px;top:95.00px;font-size:11.87px;line-height:11.87px;color:#fff;letter-spacing:-0.3px;">Facebook</div>
<svg style="position:absolute;left:422px;top:93px;" width="16" height="14" viewBox="0 0 16 14"><rect x="0" y="1.5" width="16" height="11" rx="3" fill="#ff0000"/><path d="M6.5 4.5 L10.5 7 L6.5 9.5 Z" fill="#fff"/></svg>
<div class="t" style="left:444.00px;top:94.00px;font-size:12px;line-height:12px;color:#fff;letter-spacing:-0.247px;">YouTube</div>
<svg style="position:absolute;left:511px;top:92px;" width="15" height="16" viewBox="0 0 15 16"><rect x="0" y="0.5" width="15" height="15" fill="#0a66c2"/><rect x="2.3" y="6" width="2.2" height="7" fill="#fff"/><circle cx="3.4" cy="3.6" r="1.3" fill="#fff"/><path d="M6.2 6 L8.3 6 L8.3 7 C8.8 6.2 9.6 5.8 10.6 5.8 C12.2 5.8 13 6.8 13 8.7 L13 13 L10.8 13 L10.8 9.2 C10.8 8.2 10.4 7.7 9.7 7.7 C8.9 7.7 8.4 8.3 8.4 9.3 L8.4 13 L6.2 13 Z" fill="#fff"/></svg>
<div class="t" style="left:532.00px;top:94.00px;font-size:12px;line-height:12px;color:#fff;letter-spacing:-0.093px;">Tanzilur Digital age...</div>
<svg style="position:absolute;left:662px;top:92px;" width="16" height="16" viewBox="0 0 16 16"><rect x="0" y="0" width="16" height="16" rx="3" fill="#74aa9c"/><circle cx="8" cy="8" r="4.5" fill="none" stroke="#fff" stroke-width="1.3"/><path d="M8 3.5 L8 12.5 M4.1 5.7 L11.9 10.3 M4.1 10.3 L11.9 5.7" stroke="#fff" stroke-width="0.9"/></svg>
<div class="t" style="left:684.00px;top:94.00px;font-size:12px;line-height:12px;color:#fff;letter-spacing:-0.098px;">New chat</div>
<svg style="position:absolute;left:754px;top:92px;" width="16" height="16" viewBox="0 0 16 16"><circle cx="8" cy="8" r="8" fill="#fff"/><path d="M13.2 8.2 C13.2 7.8 13.2 7.5 13.1 7.1 L8.1 7.1 L8.1 9.1 L11 9.1 C10.8 10 10.3 10.6 9.6 11.1 L11.3 12.4 C12.4 11.4 13.2 10 13.2 8.2 Z" fill="#4285f4"/><path d="M8.1 13.4 C9.5 13.4 10.7 12.9 11.3 12.4 L9.6 11.1 C9.1 11.4 8.6 11.6 8.1 11.6 C6.6 11.6 5.4 10.6 5 9.3 L3.3 10.6 C4.1 12.3 6 13.4 8.1 13.4 Z" fill="#34a853"/><path d="M5 9.3 C4.8 8.5 4.8 7.6 5 6.8 L3.3 5.5 C2.6 7 2.6 9.1 3.3 10.6 Z" fill="#fbbc05"/><path d="M8.1 4.5 C8.9 4.5 9.7 4.8 10.3 5.3 L11.8 3.8 C10.8 2.9 9.5 2.4 8.1 2.4 C6 2.4 4.1 3.6 3.3 5.5 L5 6.8 C5.4 5.5 6.6 4.5 8.1 4.5 Z" fill="#ea4335"/></svg>
<div class="t" style="left:775.80px;top:94.00px;font-size:12px;line-height:12px;color:#fff;letter-spacing:0.013px;">english to bangla -...</div>
<svg style="position:absolute;left:906px;top:92px;" width="16" height="16" viewBox="0 0 16 16"><path d="M1.2 3 Q1.2 2 2.2 2 L6 2 L7.5 3.6 L13.8 3.6 Q14.8 3.6 14.8 4.6 L14.8 13 Q14.8 14 13.8 14 L2.2 14 Q1.2 14 1.2 13 Z" fill="none" stroke="#c9ccd1" stroke-width="1.4" stroke-linejoin="round"/></svg>
<div class="t" style="left:931.00px;top:94.00px;font-size:12px;line-height:12px;color:#fff;letter-spacing:-0.073px;">DM Tools</div>
<svg style="position:absolute;left:1001px;top:91px;" width="17" height="18" viewBox="0 0 17 18"><path d="M16 1 Q10 1.5 7 6 L5.5 9 L9 12.5 L12 11 Q16.5 8 16 1 Z" fill="#f3c419"/><path d="M8.2 7.4 L11.6 10.8 M10 5.2 L13.4 8.6" stroke="#d93025" stroke-width="1.3"/><circle cx="4.5" cy="13" r="3" fill="#fff"/><circle cx="3" cy="15.5" r="2" fill="#fff"/><circle cx="7" cy="15" r="2.2" fill="#fff"/><path d="M3 12 L1 17 L5 15 Z" fill="#c5221f"/></svg>
<div class="t" style="left:1023.00px;top:94.00px;font-size:12px;line-height:12px;color:#fff;letter-spacing:0.163px;">Adcombo</div>
<svg style="position:absolute;left:1097px;top:92px;" width="16" height="16" viewBox="0 0 16 16"><path d="M1.2 3 Q1.2 2 2.2 2 L6 2 L7.5 3.6 L13.8 3.6 Q14.8 3.6 14.8 4.6 L14.8 13 Q14.8 14 13.8 14 L2.2 14 Q1.2 14 1.2 13 Z" fill="none" stroke="#c9ccd1" stroke-width="1.4" stroke-linejoin="round"/></svg>
<div class="t" style="left:1121.00px;top:94.00px;font-size:12px;line-height:12px;color:#fff;letter-spacing:-0.077px;">Remote job</div>
<svg style="position:absolute;left:1208px;top:92px;" width="16" height="16" viewBox="0 0 16 16"><path d="M1.2 3 Q1.2 2 2.2 2 L6 2 L7.5 3.6 L13.8 3.6 Q14.8 3.6 14.8 4.6 L14.8 13 Q14.8 14 13.8 14 L2.2 14 Q1.2 14 1.2 13 Z" fill="none" stroke="#c9ccd1" stroke-width="1.4" stroke-linejoin="round"/></svg>
<div class="t" style="left:1232.00px;top:94.00px;font-size:12px;line-height:12px;color:#fff;letter-spacing:0.144px;">Digital Marketing</div>
<svg style="position:absolute;left:1344px;top:93px;" width="16" height="14" viewBox="0 0 16 14"><rect x="0" y="1.5" width="16" height="11" rx="3" fill="#ff0000"/><path d="M6.5 4.5 L10.5 7 L6.5 9.5 Z" fill="#fff"/></svg>
<div class="t" style="left:1365.45px;top:95.00px;font-size:11.39px;line-height:11.39px;color:#fff;letter-spacing:-0.3px;">I DISCOVERED A H...</div>
<svg style="position:absolute;left:1494.5px;top:92px;" width="15" height="16" viewBox="0 0 15 16"><defs><linearGradient id="aig" x1="0" y1="0" x2="1" y2="1"><stop offset="0" stop-color="#7aa7ff"/><stop offset="1" stop-color="#b47cf5"/></linearGradient></defs><rect x="0" y="0.5" width="15" height="15" rx="3" fill="url(#aig)"/><text x="7.5" y="12" font-size="9" font-family="Liberation Sans" font-weight="700" fill="#fff" text-anchor="middle">AI</text></svg>
<div class="t" style="left:1516.40px;top:94.00px;font-size:12px;line-height:12px;color:#fff;letter-spacing:-0.116px;">Dashboard</div>
<svg style="position:absolute;left:1594px;top:92px;" width="16" height="16" viewBox="0 0 16 16"><rect x="0" y="0" width="16" height="16" rx="2" fill="#fff"/><rect x="5.5" y="4" width="1.8" height="8" fill="#111"/><rect x="8.7" y="4" width="1.8" height="8" fill="#111"/></svg>
<div class="t" style="left:1616.00px;top:95.00px;font-size:11.95px;line-height:11.95px;color:#fff;letter-spacing:-0.3px;">ElevenLabs - Genera...</div>
<svg style="position:absolute;left:1881px;top:94px;" width="13" height="12" viewBox="0 0 13 12"><path d="M1.5 1.5 L6 6 L1.5 10.5 M7 1.5 L11.5 6 L7 10.5" stroke="#fff" stroke-width="1.6" fill="none"/></svg>
<div style="position:absolute;left:0px;top:1032px;width:1919px;height:47px;background:#172b2c;"></div>
<svg style="position:absolute;left:18px;top:1044px;" width="26" height="22" viewBox="0 0 26 22"><defs><linearGradient id="sun" x1="0" y1="0" x2="0" y2="1"><stop offset="0" stop-color="#ffc21a"/><stop offset="1" stop-color="#f07d00"/></linearGradient></defs><circle cx="12" cy="11" r="10" fill="url(#sun)"/><rect x="5" y="3.5" width="20" height="2" rx="1" fill="#efe4c4"/><rect x="5" y="7.5" width="20" height="2" rx="1" fill="#efe4c4"/><rect x="1" y="11.5" width="13" height="2" rx="1" fill="#efe4c4"/><rect x="16" y="11.5" width="5" height="2" rx="1" fill="#efe4c4"/><rect x="1" y="15.5" width="19" height="2" rx="1" fill="#efe4c4"/></svg>
<div class="t" style="left:50.80px;top:1043.00px;font-size:11.1px;line-height:11.1px;color:#fff;letter-spacing:-0.3px;">23°C</div>
<div class="t" style="left:50.00px;top:1059.00px;font-size:11.56px;line-height:11.56px;color:#e0e0e0;letter-spacing:-0.3px;">Haze</div>
<svg style="position:absolute;left:660.5px;top:1045px;" width="24" height="23" viewBox="0 0 24 23"><defs><linearGradient id="wl" x1="0" y1="0" x2="1" y2="1"><stop offset="0" stop-color="#55d0ff"/><stop offset="1" stop-color="#1a9cf0"/></linearGradient></defs><rect x="0" y="0" width="11.3" height="11" fill="url(#wl)"/><rect x="12.5" y="0" width="11.3" height="11" fill="url(#wl)"/><rect x="0" y="12" width="11.3" height="11" fill="url(#wl)"/><rect x="12.5" y="12" width="11.3" height="11" fill="url(#wl)"/></svg>
<div style="position:absolute;left:697.5px;top:1040px;width:219px;height:32px;background:#2c4445;border-radius:16px;border:1px solid #3a5253;box-sizing:border-box;"></div>
<svg style="position:absolute;left:707px;top:1047px;" width="18" height="18" viewBox="0 0 18 18"><circle cx="7.5" cy="7.5" r="5.5" fill="none" stroke="#fff" stroke-width="1.5"/><path d="M11.5 11.5 L16 16" stroke="#fff" stroke-width="1.6"/></svg>
<div class="t" style="left:734.40px;top:1050.00px;font-size:14px;line-height:14px;color:#e6e6e6;letter-spacing:-0.203px;">Type to search</div>
<svg style="position:absolute;left:866px;top:1044px;" width="43" height="25" viewBox="0 0 43 25"><path d="M21 9 Q14 3 2 2 Q6 6 8 9 Q4 9 3 11 Q9 13 13 16 Q17 19 20 18 Z" fill="#8d6a52"/><path d="M22 9 Q29 3 41 2 Q37 6 35 9 Q39 9 40 11 Q34 13 30 16 Q26 19 23 18 Z" fill="#8d6a52"/><path d="M6 5 L15 10 M9 9 L17 13 M37 5 L28 10 M34 9 L26 13" stroke="#d9c7b5" stroke-width="0.8"/><ellipse cx="21.5" cy="14" rx="5" ry="7" fill="#b89a7c"/><circle cx="21.5" cy="9" r="4" fill="#a0836a"/><circle cx="20" cy="8.6" r="1" fill="#f2c14e"/><circle cx="23" cy="8.6" r="1" fill="#f2c14e"/><path d="M18 20 L21.5 24 L25 20 Z" fill="#8d6a52"/></svg>
<svg style="position:absolute;left:928px;top:1044px;" width="26" height="24" viewBox="0 0 26 24"><rect x="0.5" y="6" width="17" height="17" rx="2" fill="#6b6f72"/><rect x="7" y="0.5" width="17" height="17" rx="2" fill="#e8e8e8"/></svg>
<svg style="position:absolute;left:973px;top:1044px;" width="24" height="24" viewBox="0 0 24 24"><rect x="0" y="0" width="24" height="24" rx="3" fill="#f57c1f"/><path d="M6 5.5 Q9 5.5 12 9 Q15 5.5 18 5.5 Q20 8 17 12 Q20 16 18 18.5 Q15 18.5 12 15 Q9 18.5 6 18.5 Q4 16 7 12 Q4 8 6 5.5 Z" fill="none" stroke="#fff" stroke-width="2.2" stroke-linejoin="round"/></svg>
<svg style="position:absolute;left:1017px;top:1043px;" width="24" height="25" viewBox="0 0 24 25"><rect x="0.5" y="5" width="23" height="19.5" rx="3" fill="#f3f3f3"/><path d="M7 5 Q7 0.8 12 0.8 Q17 0.8 17 5" fill="none" stroke="#2aa0f0" stroke-width="1.8"/><rect x="7" y="9" width="4.5" height="4.5" fill="#f25022"/><rect x="12.5" y="9" width="4.5" height="4.5" fill="#7fba00"/><rect x="7" y="14.5" width="4.5" height="4.5" fill="#00a4ef"/><rect x="12.5" y="14.5" width="4.5" height="4.5" fill="#ffb900"/></svg>
<svg style="position:absolute;left:1061px;top:1045px;" width="24" height="21" viewBox="0 0 24 21"><path d="M0 2 Q0 0.5 1.5 0.5 L8 0.5 L10 3 L22.5 3 Q24 3 24 4.5 L24 19.5 Q24 21 22.5 21 L1.5 21 Q0 21 0 19.5 Z" fill="#f7c325"/><rect x="0" y="6" width="24" height="15" rx="1.5" fill="#ffd452"/><rect x="7.5" y="14" width="9" height="4" rx="1" fill="#1a7ad1"/></svg>
<svg style="position:absolute;left:1108.5px;top:1044px;" width="18" height="24" viewBox="0 0 18 24"><rect x="0.5" y="2" width="17" height="21" rx="2" fill="#3ba3d8"/><rect x="0.5" y="21" width="17" height="2.5" rx="1" fill="#d97a2b"/><path d="M4 8 L14 8 M4 11.5 L14 11.5 M4 15 L14 15 M4 18.5 L11 18.5" stroke="#e8f4fb" stroke-width="1.3"/><path d="M3 0.5 L3 3.5 M6.5 0.5 L6.5 3.5 M10 0.5 L10 3.5 M13.5 0.5 L13.5 3.5" stroke="#1e6a96" stroke-width="1.2"/></svg>
<div style="position:absolute;left:1141.4px;top:1036px;width:39.3px;height:39.7px;background:#233a3d;border-radius:5px;box-shadow:inset 0 0 0 1px #2c4346;"></div>
<svg style="position:absolute;left:1148.8px;top:1043.7px;" width="24.4" height="24.4" viewBox="0 0 24.4 24.4"><path d="M12.20 12.20 L1.14 7.04 A12.20 12.20 0 0 1 22.77 6.10 Z" fill="#ea4335"/><path d="M12.20 12.20 L22.77 6.10 A12.20 12.20 0 0 1 13.26 24.35 Z" fill="#fbc02d"/><path d="M12.20 12.20 L13.26 24.35 A12.20 12.20 0 0 1 1.14 7.04 Z" fill="#34a853"/><circle cx="12.2" cy="12.2" r="6.1" fill="#fff"/><circle cx="12.2" cy="12.2" r="4.941" fill="#1a73e8"/></svg>
<svg style="position:absolute;left:1161.3px;top:1039px;" width="16.6" height="16.6" viewBox="0 0 32 32"><defs><clipPath id="avc3"><circle cx="16" cy="16" r="16"/></clipPath></defs><g clip-path="url(#avc3)"><rect x="0" y="0" width="32" height="32" fill="#a38a6c"/><path d="M13 6 Q18 4 23 3 L32 3 L32 24 L13 24 Z" fill="#2f7de0"/><rect x="22" y="18" width="10" height="3" fill="#6d8aa0"/><rect x="21" y="21" width="11" height="11" fill="#3b8c3c"/><path d="M16 7 Q20 2 27 3 L28 5 Q22 5 19 9 Z" fill="#1a1a14"/><path d="M19.5 6 L21 6 L21.5 28 L20 28 Z" fill="#6a4a20"/><ellipse cx="11.5" cy="13.5" rx="4" ry="5.2" fill="#b9805a"/><ellipse cx="11.5" cy="9" rx="4.3" ry="2.6" fill="#17110e"/><rect x="7.5" y="12" width="8.5" height="2.4" rx="1" fill="#111"/><path d="M0 26 Q3 20 9 19 L16 19 Q21 20 24 26 L26 32 L0 32 Z" fill="#8c4f2c"/><path d="M9.5 19.5 L14 19.5 L15 32 L10 32 Z" fill="#1e1a1a"/></g></svg>
<div style="position:absolute;left:1152.9px;top:1072px;width:16.2px;height:3px;background:#4cc2ff;border-radius:2px;"></div>
<svg style="position:absolute;left:1192.5px;top:1043.7px;" width="24.4" height="24.4" viewBox="0 0 24.4 24.4"><path d="M12.20 12.20 L1.14 7.04 A12.20 12.20 0 0 1 22.77 6.10 Z" fill="#ea4335"/><path d="M12.20 12.20 L22.77 6.10 A12.20 12.20 0 0 1 13.26 24.35 Z" fill="#fbc02d"/><path d="M12.20 12.20 L13.26 24.35 A12.20 12.20 0 0 1 1.14 7.04 Z" fill="#34a853"/><circle cx="12.2" cy="12.2" r="6.1" fill="#fff"/><circle cx="12.2" cy="12.2" r="4.941" fill="#1a73e8"/></svg>
<div style="position:absolute;left:1206.4px;top:1039px;width:15.6px;height:15.6px;border-radius:50%;overflow:hidden;background:radial-gradient(circle at 30% 30%,#d0307a 0%,#9a3a70 35%,#5a4a6a 60%,#3b5a9a 100%);"><div style="position:absolute;left:7px;top:4px;width:6px;height:12px;border-radius:3px;background:#2f4f8f;"></div></div>
<div style="position:absolute;left:1202px;top:1072px;width:6px;height:3px;background:#9aa5a7;border-radius:2px;"></div>
<svg style="position:absolute;left:1236.2px;top:1043.7px;" width="24.4" height="24.4" viewBox="0 0 24.4 24.4"><path d="M12.20 12.20 L1.14 7.04 A12.20 12.20 0 0 1 22.77 6.10 Z" fill="#ea4335"/><path d="M12.20 12.20 L22.77 6.10 A12.20 12.20 0 0 1 13.26 24.35 Z" fill="#fbc02d"/><path d="M12.20 12.20 L13.26 24.35 A12.20 12.20 0 0 1 1.14 7.04 Z" fill="#34a853"/><circle cx="12.2" cy="12.2" r="6.1" fill="#fff"/><circle cx="12.2" cy="12.2" r="4.941" fill="#1a73e8"/></svg>
<div style="position:absolute;left:1249px;top:1039px;width:17px;height:17px;border-radius:50%;overflow:hidden;background:linear-gradient(180deg,#bfe6f5 0%,#8fd0ee 40%,#d8eef7 100%);"><div style="position:absolute;left:0px;top:6px;width:14px;height:6px;border-radius:2px;background:#d8302a;"></div></div>
<div style="position:absolute;left:1246px;top:1072px;width:6px;height:3px;background:#9aa5a7;border-radius:2px;"></div>
<svg style="position:absolute;left:1695px;top:1051px;" width="12" height="8" viewBox="0 0 12 8"><path d="M1 7 L6 1.8 L11 7" stroke="#fff" stroke-width="1.4" fill="none"/></svg>
<svg style="position:absolute;left:1724.5px;top:1048px;" width="18" height="17" viewBox="0 0 18 17"><rect x="0.7" y="0.7" width="11" height="9.5" fill="none" stroke="#fff" stroke-width="1.1"/><path d="M6 10.2 L6 13.5 M2.5 13.8 L9.5 13.8" stroke="#fff" stroke-width="1.1"/><rect x="13.2" y="0.7" width="3.2" height="4" fill="none" stroke="#fff" stroke-width="1"/><path d="M14.8 4.7 L14.8 16" stroke="#fff" stroke-width="1.1"/></svg>
<svg style="position:absolute;left:1748.5px;top:1048px;" width="18" height="17" viewBox="0 0 18 17"><path d="M1 6 L4 6 L8 2 L8 15 L4 11 L1 11 Z" fill="none" stroke="#fff" stroke-width="1.1" stroke-linejoin="round"/><path d="M10.5 5.5 Q12 8.5 10.5 11.5 M12.8 3.8 Q15.2 8.5 12.8 13.2 M15 2 Q18.3 8.5 15 15" fill="none" stroke="#fff" stroke-width="1.1"/></svg>
<div class="t" style="left:1793.70px;top:1043.00px;font-size:11.95px;line-height:11.95px;color:#fff;letter-spacing:-0.3px;">1:26 PM</div>
<div class="t" style="left:1781.70px;top:1058.00px;font-size:12px;line-height:12px;color:#fff;letter-spacing:0.186px;">1/26/2024</div>
<svg style="position:absolute;left:1845px;top:1048px;" width="16" height="17" viewBox="0 0 16 17"><path d="M7.5 1.5 Q2.5 2 2.5 8 L2.5 11 L0.5 13.3 L14 13.3 L12 11 L12 8 Q12 2 7.5 1.5 Z" fill="#fff"/><path d="M5 14.5 Q7.3 16.8 9.6 14.5 Z" fill="#fff"/><path d="M4.6 6.4 L9.4 6.4 L4.6 10.6 L9.4 10.6" fill="none" stroke="#172b2c" stroke-width="1.4"/><path d="M10.8 0.8 L14.2 0.8 L10.8 4.6 L14.2 4.6" fill="none" stroke="#fff" stroke-width="1.3"/></svg>
<svg style="position:absolute;left:1876px;top:1045px;" width="25" height="24" viewBox="0 0 25 24"><defs><linearGradient id="cpl" x1="0" y1="0" x2="0" y2="1"><stop offset="0" stop-color="#22b8f0"/><stop offset="0.5" stop-color="#57b85a"/><stop offset="1" stop-color="#f2cf1a"/></linearGradient><linearGradient id="cpr" x1="1" y1="0" x2="0" y2="1"><stop offset="0" stop-color="#b84ff5"/><stop offset="1" stop-color="#ff6f7d"/></linearGradient></defs><path d="M7 1 L16 1 Q18 1 19 3 L20 6 L13 6 Z" fill="#1f3fd1"/><path d="M5.5 1 L12 1 Q10.5 1.5 9.8 4 L7.5 13.5 Q7 15.5 4.5 15.5 L2.5 15.5 Q0.5 15.5 1 13.5 L3.5 3 Q4 1 5.5 1 Z" fill="url(#cpl)"/><path d="M14.5 6 L21.5 6 Q24 6 23.5 8 L21 15 Q20.5 16.5 18.5 16.5 L11.5 16.5 Q13 16 13.5 14 L14.5 6 Z" fill="url(#cpr)"/><rect x="6.3" y="16.2" width="17.8" height="7" rx="2.2" fill="#ffcc00"/><text x="15.2" y="22.2" font-size="6.3" font-family="Liberation Sans" font-weight="700" fill="#1a1a1a" text-anchor="middle" letter-spacing="0.6">PRE</text></svg>
</body></html>
